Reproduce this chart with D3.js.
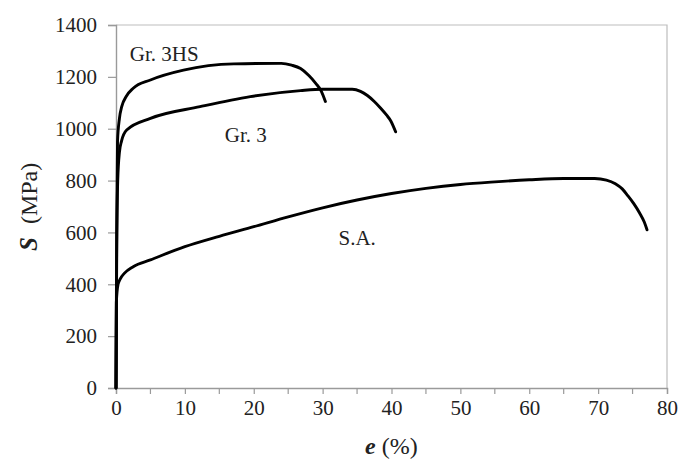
<!DOCTYPE html>
<html>
<head>
<meta charset="utf-8">
<script src="https://cdn.jsdelivr.net/npm/d3@7"></script>
<style>
  body { margin: 0; background: #fff; }
  svg text { font-family: 'Liberation Serif', 'Times New Roman', serif; fill: #222; }
</style>
</head>
<body>
<svg id="chart" width="681" height="460"></svg>
<script>
// strain e (%) vs stress S (MPa)
const saCurve = [
  [0, 0], [0.05, 330], [0.3, 400], [0.6, 420], [1.2, 442], [2.5, 468], [5, 494],
  [10, 545], [15, 585], [20, 622], [25, 660], [30, 695], [35, 725], [40, 750],
  [45, 770], [50, 785], [55, 795], [60, 803], [65, 808], [69.5, 808],
  [71.2, 802], [72.5, 788], [73.5, 768], [74.3, 742], [75.2, 710], [76, 676],
  [76.7, 640], [77.1, 610]
];
const gr3Curve = [
  [0, 0], [0.1, 500], [0.25, 800], [0.5, 910], [0.8, 952], [1.55, 995], [5, 1040],
  [12.2, 1085], [19.5, 1124], [26.8, 1147], [30, 1152], [34.3, 1152],
  [35.5, 1144], [36.5, 1128], [37.5, 1105], [38.4, 1080], [39.3, 1052],
  [39.9, 1030], [40.6, 988]
];
const gr3hsCurve = [
  [0, 0], [0.1, 600], [0.22, 950], [0.5, 1040], [0.83, 1085], [1.5, 1125],
  [2.5, 1156], [5, 1188], [9.8, 1226], [17.1, 1250], [24, 1252], [25.5, 1245],
  [26.8, 1232], [28, 1205], [29, 1175], [29.8, 1145], [30.4, 1105]
];
const xTicks = [0, 10, 20, 30, 40, 50, 60, 70, 80];
const xMinorTicks = [5, 15, 25, 35, 45, 55, 65, 75];
const yTicks = [0, 200, 400, 600, 800, 1000, 1200, 1400];
const seriesLabels = [
  { text: 'Gr. 3HS', x: 2, y: 1262 },
  { text: 'Gr. 3', x: 15.8, y: 950 },
  { text: 'S.A.', x: 32.3, y: 552 }
];

const svg = d3.select('#chart');
const plot = { left: 116, right: 667, top: 25, bottom: 388 };
const x = d3.scaleLinear().domain([0, 80]).range([plot.left, plot.right]);
const y = d3.scaleLinear().domain([0, 1400]).range([plot.bottom, plot.top]);
const axisColor = '#9a9a9a';

// frame (top and right)
svg.append('path')
  .attr('d', `M${plot.left},${plot.top}H${plot.right}V${plot.bottom}`)
  .attr('fill', 'none')
  .attr('stroke', '#bdbdbd')
  .attr('stroke-width', 1.2);

// x axis
const xAxis = svg.append('g').attr('transform', `translate(0,${plot.bottom})`);
xAxis.call(d3.axisBottom(x).tickValues(xTicks).tickSize(6).tickPadding(6).tickFormat(d3.format('d')));
xAxis.selectAll('.minor').data(xMinorTicks).enter()
  .append('line')
  .attr('class', 'minor')
  .attr('x1', d => x(d)).attr('x2', d => x(d))
  .attr('y1', 0).attr('y2', 6)
  .attr('stroke', axisColor).attr('stroke-width', 1.2);

// y axis
const yAxis = svg.append('g').attr('transform', `translate(${plot.left},0)`);
yAxis.call(d3.axisLeft(y).tickValues(yTicks).tickSize(8).tickPadding(11).tickFormat(d3.format('d')));

[xAxis, yAxis].forEach(g => {
  g.select('.domain').attr('stroke', axisColor).attr('stroke-width', 1.4);
  g.selectAll('.tick line').attr('stroke', axisColor).attr('stroke-width', 1.2);
  g.selectAll('.tick text').style('font-size', '21px').attr('fill', '#222');
});

// curves
const line = d3.line()
  .x(d => x(d[0]))
  .y(d => y(d[1]))
  .curve(d3.curveMonotoneX);

[saCurve, gr3Curve, gr3hsCurve].forEach(curve => {
  svg.append('path')
    .datum(curve)
    .attr('d', line)
    .attr('fill', 'none')
    .attr('stroke', '#000')
    .attr('stroke-width', 2.9)
    .attr('stroke-linejoin', 'round')
    .attr('stroke-linecap', 'round');
});

// series labels
svg.selectAll('.series-label').data(seriesLabels).enter()
  .append('text')
  .attr('class', 'series-label')
  .attr('x', d => x(d.x))
  .attr('y', d => y(d.y))
  .style('font-size', '21px')
  .text(d => d.text);

// axis titles
const yTitle = svg.append('text')
  .attr('transform', 'translate(37,251) rotate(-90)');
yTitle.append('tspan').style('font-weight', 'bold').style('font-style', 'italic').style('font-size', '25px').text('S');
yTitle.append('tspan').attr('dx', 13).style('font-size', '24px').text('(MPa)');

const xTitle = svg.append('text')
  .attr('x', 365)
  .attr('y', 454);
xTitle.append('tspan').style('font-weight', 'bold').style('font-style', 'italic').style('font-size', '24px').text('e');
xTitle.append('tspan').attr('dx', 6).style('font-size', '24px').text('(%)');
</script>
</body>
</html>
